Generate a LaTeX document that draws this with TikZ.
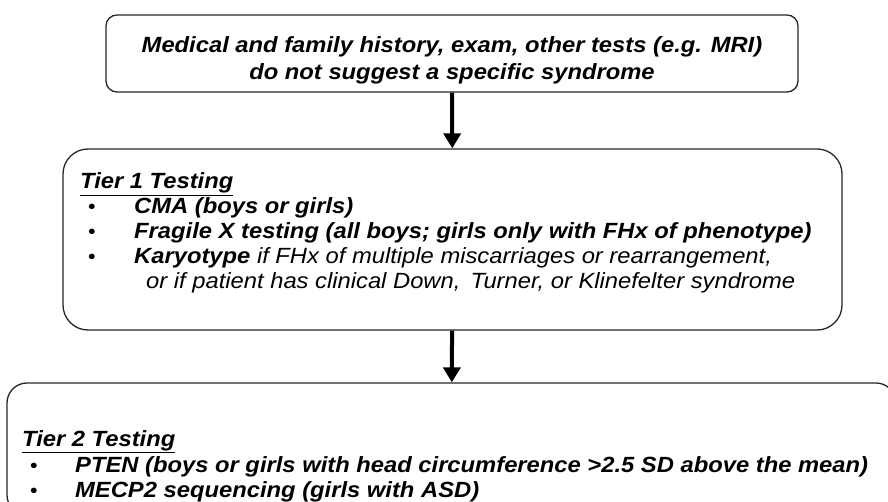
\documentclass[tikz,border=0pt]{standalone}
\usepackage{fontspec}
\setmainfont[FakeStretch=1.08]{Liberation Sans}
\usetikzlibrary{arrows.meta}
\usetikzlibrary{positioning}

\begin{document}
\begin{tikzpicture}[x=1pt, y=-1pt,
    tierbox/.style={draw, black!85, line width=1.3pt, inner sep=0pt},
    txt/.style={anchor=base west, inner sep=0pt, font=\fontsize{22}{26}\selectfont\bfseries\itshape},
    bul/.style={anchor=base west, inner sep=0pt, font=\fontsize{20}{24}\selectfont},
    flow/.style={line width=4pt, -{Triangle[width=17pt, length=15pt]}}]
      \clip (0,0) rectangle (888,502);

      \node[tierbox, rounded corners=11pt, minimum width=692pt, minimum height=77pt] (hist) at (452,53.5) {};
      \node[tierbox, rounded corners=25pt, minimum width=779pt, minimum height=181pt] (tier1) at (452.5,239.5) {};
      \node[tierbox, rounded corners=20pt, minimum width=889pt, minimum height=132pt] (tier2) at (451.5,449) {};

      \node[txt, anchor=base] (histA) at (452,53) {Medical and family history, exam, other tests (e.g. MRI)};
      \node[txt, anchor=base] (histB) at (452,80) {do not suggest a specific syndrome};

      \node[txt] (headA) at (80,189) {\underline{Tier 1 Testing}};
      \node[bul] (b1) at (88,214) {\textbullet};
      \node[bul] (b2) at (88,239) {\textbullet};
      \node[bul] (b3) at (88,264) {\textbullet};
      \node[txt] (cma) at (134,214) {CMA (boys or girls)};
      \node[txt] (fragx) at (134,239) {Fragile X testing (all boys; girls only with FHx of phenotype)};
      \node[txt] (karyo) at (134,264) {Karyotype \mdseries if FHx of multiple miscarriages or rearrangement,};
      \node[txt, font=\fontsize{22}{26}\selectfont\itshape] (karyoB) at (146,289) {or if patient has clinical Down,\, Turner, or Klinefelter syndrome};

      \node[txt] (headB) at (22,446) {\underline{Tier 2 Testing}};
      \node[bul] (b4) at (30,472) {\textbullet};
      \node[bul] (b5) at (30,497) {\textbullet};
      \node[txt] (pten) at (75,472) {PTEN (boys or girls with head circumference >2.5 SD above the mean)};
      \node[txt] (mecp) at (75,497) {MECP2 sequencing (girls with ASD)};

      \draw[flow] (hist) -- (tier1);
      \draw[flow] (tier1) -- (tier2);
    \end{tikzpicture}
\end{document}
